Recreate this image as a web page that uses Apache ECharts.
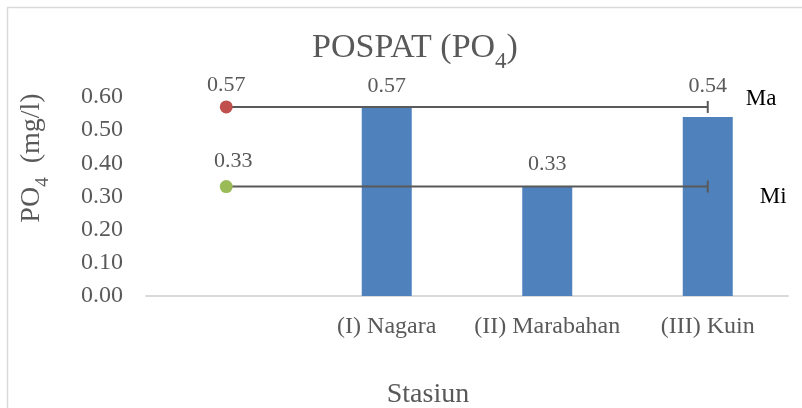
<!DOCTYPE html>
<html><head><meta charset="utf-8">
<script src="https://cdn.jsdelivr.net/npm/echarts@6/dist/echarts.min.js"></script>
<style>html,body{margin:0;padding:0;background:#fff}#c{width:802px;height:408px}</style>
</head><body><div id="c"></div>
<script>
var categories = ['', '(I) Nagara', '(II) Marabahan', '(III) Kuin'];
var barValues = [null, 0.57, 0.33, 0.54];
var maValues = [0.57, 0.57, 0.57, 0.57];
var miValues = [0.33, 0.33, 0.33, 0.33];
var yMin = 0, yMax = 0.6, yStep = 0.1;

var FONT = '"Liberation Serif", "Times New Roman", serif';
var GREY = '#595959';
var chart = echarts.init(document.getElementById('c'), null, {renderer: 'canvas'});

function refLine(name, values, dotColor, labelOffset, endOffset) {
  var last = values.length - 1;
  return {
    name: name, type: 'line', z: 5,
    lineStyle: {color: GREY, width: 2},
    itemStyle: {color: GREY},
    data: values.map(function (v, i) {
      var item = {value: v};
      if (i === 0) {
        item.symbol = 'circle'; item.symbolSize = 13;
        item.itemStyle = {color: dotColor};
        item.label = {show: true, position: 'top', distance: 4, color: GREY,
          fontFamily: FONT, fontSize: 22, offset: labelOffset};
      } else if (i === last) {
        item.symbol = 'rect'; item.symbolSize = [2, 12];
        item.itemStyle = {color: GREY};
      } else {
        item.symbol = 'none';
      }
      return item;
    }),
    showSymbol: true,
    label: {show: false},
    endLabel: {show: true, formatter: name, color: '#000', fontFamily: FONT,
      fontSize: 23, offset: endOffset},
    animation: false
  };
}

var barLabelDist = [0, 10, 11, 20];

chart.setOption({
  animation: false,
  title: [{
    text: '{a|POSPAT (PO}{s|4}{a|)}',
    left: 410, top: 26, textAlign: 'center',
    textStyle: {rich: {
      a: {fontFamily: FONT, fontSize: 34, fontWeight: 'normal', color: GREY, lineHeight: 34, verticalAlign: 'top'},
      s: {fontFamily: FONT, fontSize: 23, fontWeight: 'normal', color: GREY, lineHeight: 42, verticalAlign: 'bottom'}
    }}
  }, {
    text: 'Stasiun', left: 423, top: 376, textAlign: 'center',
    textStyle: {fontFamily: FONT, fontSize: 28, fontWeight: 'normal', color: GREY}
  }],
  grid: {left: 146, right: 14, top: 97, bottom: 112, containLabel: false},
  xAxis: {
    type: 'category', data: categories, boundaryGap: true,
    axisLine: {lineStyle: {color: '#d9d9d9', width: 2}},
    axisTick: {show: false},
    axisLabel: {color: GREY, fontFamily: FONT, fontSize: 24, margin: 19, interval: 0}
  },
  yAxis: {
    type: 'value', min: yMin, max: yMax, interval: yStep,
    splitLine: {show: false}, axisLine: {show: false}, axisTick: {show: false},
    axisLabel: {color: GREY, fontFamily: FONT, fontSize: 24, margin: 23,
      formatter: function (v) { return v.toFixed(2); }}
  },
  graphic: [{
    type: 'rect', silent: true, z: -10,
    shape: {x: 7.5, y: 7.5, width: 820, height: 420},
    style: {fill: 'none', stroke: '#d9d9d9', lineWidth: 1.5}
  }, {
    type: 'text', x: 35, y: 158, rotation: Math.PI / 2,
    style: {
      text: '{a|PO}{s|4}{a|  (mg/l)}', align: 'center', verticalAlign: 'middle',
      rich: {
        a: {fontFamily: FONT, fontSize: 28, fill: GREY, lineHeight: 28, verticalAlign: 'top'},
        s: {fontFamily: FONT, fontSize: 19, fill: GREY, lineHeight: 35, verticalAlign: 'bottom'}
      }
    }
  }],
  series: [{
    name: 'PO4', type: 'bar', barWidth: 50, z: 2,
    itemStyle: {color: '#4f81bd'},
    data: barValues.map(function (v, i) {
      return {value: v, label: {show: v != null, position: 'top', distance: barLabelDist[i],
        color: GREY, fontFamily: FONT, fontSize: 22}};
    })
  },
  refLine('Ma', maValues, '#c0504d', [0, 0], [30, -8]),
  refLine('Mi', miValues, '#9bbb59', [7, -4], [44, 10])
  ]
});
</script></body></html>
